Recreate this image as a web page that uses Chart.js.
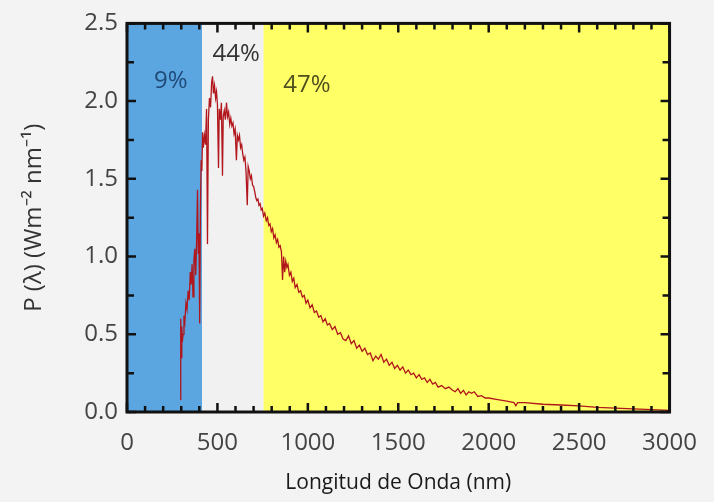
<!DOCTYPE html>
<html><head><meta charset="utf-8">
<script src="https://cdn.jsdelivr.net/npm/chart.js@4.4.1/dist/chart.umd.min.js"></script>
<style>html,body{margin:0;padding:0;background:#f3f3f3;}canvas{display:block;}</style>
</head><body>
<canvas id="c" width="714" height="502"></canvas>
<script>
// Wavelength (nm) and spectral power P(λ) (W m^-2 nm^-1)
const wavelengths = [
 295,297,300,303,306,310,315,320,326,332,338,344,350,355,360,365,370,375,380,385,
 390,394,398,402,406,410,414,418,422,428,434,440,445,450,456,462,468,473,478,484,
 490,495,500,506,510,516,522,528,532,538,544,550,556,562,568,574,580,586,592,598,
 605,610,616,622,628,634,640,646,652,658,665,670,676,682,688,694,700,706,712,718,
 724,730,736,742,748,755,762,770,777,784,791,798,805,812,819,826,833,840,847,854,
 860,866,872,878,884,890,898,906,914,922,930,940,950,960,970,980,990,1000,1012,1024,
 1036,1048,1060,1072,1084,1096,1108,1120,1135,1150,1165,1180,1195,1210,1225,1240,1255,1270,1285,1300,
 1315,1330,1345,1360,1375,1390,1405,1420,1435,1450,1465,1480,1495,1510,1525,1540,1555,1570,1585,1600,
 1615,1630,1645,1660,1675,1690,1705,1720,1740,1760,1780,1800,1815,1830,1845,1860,1875,1890,1905,1920,
 1940,1960,1980,2000,2050,2100,2140,2150,2160,2200,2300,2400,2500,2600,2700,2800,2900,3000
];
const power = [
 0.08,0.60,0.35,0.55,0.45,0.50,0.62,0.58,0.70,0.66,0.78,0.72,0.90,0.82,0.95,0.74,0.98,1.05,0.88,1.10,
 1.43,1.02,1.15,0.57,1.30,1.62,1.55,1.80,1.70,1.78,1.72,1.95,1.08,1.88,2.02,1.96,2.12,2.16,2.05,2.10,
 2.02,2.06,1.98,1.57,1.95,1.88,1.99,1.52,1.90,1.94,1.88,1.99,1.90,1.93,1.85,1.89,1.84,1.86,1.79,1.82,
 1.62,1.78,1.75,1.78,1.70,1.72,1.66,1.62,1.64,1.55,1.33,1.58,1.55,1.50,1.52,1.46,1.45,1.42,1.38,1.36,
 1.37,1.33,1.34,1.30,1.31,1.26,1.28,1.23,1.25,1.20,1.21,1.16,1.18,1.12,1.14,1.09,1.11,1.06,1.07,1.03,
 0.85,1.00,0.90,0.97,0.93,0.95,0.88,0.90,0.84,0.86,0.80,0.82,0.77,0.78,0.74,0.75,0.70,0.72,0.67,0.69,
 0.64,0.65,0.61,0.62,0.58,0.60,0.56,0.57,0.53,0.55,0.50,0.51,0.47,0.46,0.49,0.44,0.46,0.41,0.43,0.39,
 0.41,0.37,0.38,0.33,0.36,0.34,0.37,0.32,0.34,0.30,0.32,0.28,0.30,0.27,0.29,0.25,0.27,0.24,0.25,0.22,
 0.24,0.21,0.22,0.19,0.21,0.18,0.19,0.16,0.17,0.15,0.16,0.14,0.13,0.15,0.12,0.14,0.11,0.13,0.12,0.13,
 0.10,0.105,0.09,0.09,0.08,0.07,0.06,0.04,0.06,0.06,0.05,0.045,0.04,0.03,0.025,0.02,0.015,0.01
];

// Shaded spectral bands
const regionBounds = [0, 415, 755, 3000];
const regionColors = ['#5ba5e1', '#f1f1f2', '#ffff66'];
const regionLabels = ['9%', '44%', '47%'];
const regionLabelX = [242, 604, 995];
const regionLabelY = [2.13, 2.30, 2.10];
const regionLabelColors = ['#1f4b78', '#333333', '#4f4f1f'];

// Axis ticks
const xTickValues = [0, 500, 1000, 1500, 2000, 2500, 3000];
const yTickValues = [0, 0.5, 1.0, 1.5, 2.0, 2.5];
const xMinorStep = 100;
const yMinorStep = 0.25;

const FONT = "'Open Sans', sans-serif";

const decor = {
  id: 'decor',
  beforeDatasetsDraw(chart) {
    const {ctx, chartArea: a, scales: {x, y}} = chart;
    ctx.save();
    for (let i = 0; i < regionColors.length; i++) {
      const x0 = x.getPixelForValue(regionBounds[i]);
      const x1 = x.getPixelForValue(regionBounds[i + 1]);
      ctx.fillStyle = regionColors[i];
      ctx.fillRect(x0, a.top, x1 - x0, a.bottom - a.top);
    }
    ctx.font = '24px ' + FONT;
    ctx.textAlign = 'center';
    ctx.textBaseline = 'middle';
    for (let i = 0; i < regionLabels.length; i++) {
      ctx.fillStyle = regionLabelColors[i];
      ctx.fillText(regionLabels[i], x.getPixelForValue(regionLabelX[i]), y.getPixelForValue(regionLabelY[i]));
    }
    ctx.restore();
  },
  afterDatasetsDraw(chart) {
    const {ctx, chartArea: a, scales: {x, y}} = chart;
    ctx.save();
    ctx.strokeStyle = '#111';
    ctx.lineWidth = 2.5;
    for (let v = x.min; v <= x.max + 1e-9; v += xMinorStep) {
      const px = x.getPixelForValue(v);
      const major = Math.abs(v % 500) < 1e-6;
      const len = major ? 9 : 6;
      ctx.beginPath();
      ctx.moveTo(px, a.bottom); ctx.lineTo(px, a.bottom - len);
      ctx.moveTo(px, a.top); ctx.lineTo(px, a.top + len);
      ctx.stroke();
    }
    for (let v = y.min; v <= y.max + 1e-9; v += yMinorStep) {
      const py = y.getPixelForValue(v);
      const major = Math.abs((v / 0.5) - Math.round(v / 0.5)) < 1e-6;
      const len = major ? 9 : 7;
      ctx.beginPath();
      ctx.moveTo(a.left, py); ctx.lineTo(a.left + len, py);
      ctx.moveTo(a.right, py); ctx.lineTo(a.right - len, py);
      ctx.stroke();
    }
    ctx.lineWidth = 3;
    ctx.strokeRect(a.left, a.top, a.right - a.left, a.bottom - a.top);
    ctx.restore();
  }
};

new Chart(document.getElementById('c'), {
  type: 'line',
  data: {
    datasets: [{
      data: wavelengths.map((w, i) => ({x: w, y: power[i]})),
      borderColor: '#b0161c',
      borderWidth: 1.3,
      pointRadius: 0,
      tension: 0,
      fill: false
    }]
  },
  options: {
    responsive: false,
    animation: false,
    layout: {padding: {top: 22, right: 42, left: 0, bottom: 0}},
    plugins: {legend: {display: false}, tooltip: {enabled: false}},
    scales: {
      x: {
        type: 'linear', min: 0, max: 3000,
        afterBuildTicks: s => { s.ticks = xTickValues.map(v => ({value: v})); },
        afterFit: s => { s.height = 90; },
        ticks: {font: {family: FONT, size: 24}, color: '#444', padding: 17, maxRotation: 0, autoSkip: false, callback: v => String(v)},
        grid: {display: false, drawTicks: false},
        border: {display: false},
        title: {display: true, text: 'Longitud de Onda (nm)', font: {family: FONT, size: 21}, color: '#1a1a1a', padding: {top: 0, bottom: 6}}
      },
      y: {
        min: 0, max: 2.5,
        afterBuildTicks: s => { s.ticks = yTickValues.map(v => ({value: v})); },
        afterFit: s => { s.width = 127; },
        ticks: {font: {family: FONT, size: 24}, color: '#444', padding: 9, callback: v => v.toFixed(1)},
        grid: {display: false, drawTicks: false},
        border: {display: false},
        title: {display: true, text: 'P (λ) (Wm⁻² nm⁻¹)', font: {family: FONT, size: 24}, color: '#333', padding: {top: 20, bottom: 0}}
      }
    }
  },
  plugins: [decor]
});
</script>
</body></html>
